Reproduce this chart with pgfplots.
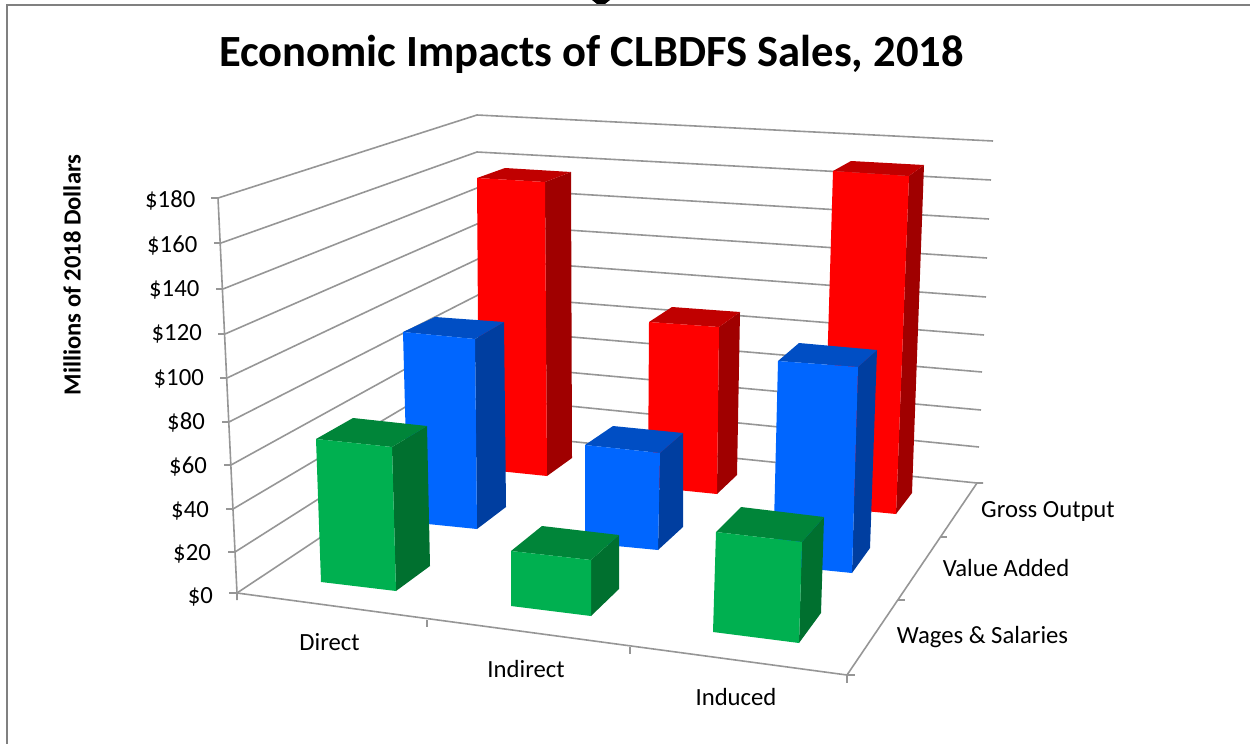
\documentclass[border=0pt]{standalone}
\usepackage{fontspec}
\setmainfont{Carlito}
\usepackage{pgfplots}
\pgfplotsset{compat=1.18}
\definecolor{redF}{RGB}{255,0,0}
\definecolor{redT}{RGB}{192,0,0}
\definecolor{redS}{RGB}{160,0,0}
\definecolor{bluF}{RGB}{0,102,255}
\definecolor{bluT}{RGB}{0,78,196}
\definecolor{bluS}{RGB}{0,62,160}
\definecolor{grnF}{RGB}{0,176,80}
\definecolor{grnT}{RGB}{0,133,57}
\definecolor{grnS}{RGB}{0,112,47}
\definecolor{gridc}{RGB}{150,150,150}
% coordinates below are picture positions (the 3D view is a projection)
\newcommand{\face}[2]{\addplot[draw=none,fill=#1] coordinates {#2} --cycle;}
\newcommand{\gline}[1]{\addplot[gridc,line width=1.6pt] coordinates {#1};}
\begin{document}
\begin{tikzpicture}
\useasboundingbox (0,0) rectangle (1250pt,744pt);
\begin{axis}[
    at={(0,0)},
    anchor=south west,
    hide axis,
    scale only axis,
    width=1250pt,
    height=744pt,
    xmin=0, xmax=1250,
    ymin=0, ymax=744,
    y dir=reverse,
]
% chart frame
\face{black}{(592,0)(610,0)(605,4)(597,4)}
\addplot[gray,line width=1.5pt] coordinates {(7,744)(7,5)(1250,5)};
% value axis
\gline{(211,198)(218,198)(237,593)(237,600)}
\gline{(229,593)(237,593)}
\gline{(214,243)(221,243)}
\gline{(216,289)(223,289)}
\gline{(218,334)(225,334)}
\gline{(220,378)(227,378)}
\gline{(222,422)(229,422)}
\gline{(224,465)(231,465)}
\gline{(226,509)(233,509)}
\gline{(228,552)(235,552)}
% side wall and back wall gridlines
\gline{(218,198)(477,115)(993,141)}
\gline{(221,243)(477,152)(991,180)}
\gline{(223,289)(477,188)(989,219)}
\gline{(225,334)(477,224)(987,258)}
\gline{(227,378)(478,259)(986,297)}
\gline{(229,422)(478,295)(984,335)}
\gline{(231,465)(478,329)(982,372)}
\gline{(233,509)(478,364)(981,410)}
\gline{(235,552)(479,397)(979,447)}
\gline{(237,593)(479,432)(977,483)(983,483)}
% floor edges and ticks
\gline{(237,593)(847,675)(977,483)}
\gline{(427,620)(427,627)}
\gline{(630,647)(630,654)}
\gline{(847,675)(847,683)}
\gline{(847,675)(855,675)}
\gline{(898,600)(905,600)}
\gline{(940,537)(947,537)}
% Gross Output
\face{redS}{(545,182)(571,172)(572,458)(547,476)}
\face{redT}{(477,178)(505,168)(571,172)(545,182)}
\face{redF}{(477,178)(545,182)(547,476)(479,469)}
\face{redS}{(719,327)(740,312)(737,475)(717,494)}
\face{redT}{(649,322)(672,307)(740,312)(719,327)}
\face{redF}{(649,322)(719,327)(717,494)(648,487)}
\face{redS}{(909,176)(924,165)(912,493)(896,514)}
\face{redT}{(833,171)(851,161)(924,165)(909,176)}
\face{redF}{(833,171)(909,176)(896,514)(823,507)}
% Value Added
\face{bluS}{(475,339)(504,322)(506,507)(477,529)}
\face{bluT}{(403,332)(435,317)(504,322)(475,339)}
\face{bluF}{(403,332)(475,339)(477,529)(408,522)}
\face{bluS}{(660,453)(683,433)(683,527)(658,550)}
\face{bluT}{(585,445)(613,426)(683,433)(660,453)}
\face{bluF}{(585,445)(660,453)(658,550)(585,543)}
\face{bluS}{(858,367)(877,350)(870,548)(852,573)}
\face{bluT}{(778,361)(799,343)(877,350)(858,367)}
\face{bluF}{(778,361)(858,367)(852,573)(773,565)}
% Wages & Salaries
\face{grnS}{(392,447)(427,426)(430,566)(396,591)}
\face{grnT}{(316,439)(353,418)(427,426)(392,447)}
\face{grnF}{(316,439)(392,447)(396,591)(321,582)}
\face{grnS}{(591,560)(619,535)(619,589)(591,616)}
\face{grnT}{(511,551)(542,526)(619,535)(591,560)}
\face{grnF}{(511,551)(591,560)(591,616)(511,606)}
\face{grnS}{(802,542)(824,517)(821,613)(799,643)}
\face{grnT}{(716,532)(741,507)(824,517)(802,542)}
\face{grnF}{(716,532)(802,542)(799,643)(713,632)}
% texts
\node[font=\fontsize{44.6}{44}\selectfont\bfseries,anchor=base,inner sep=0pt] at (591.5,66) {Economic Impacts of CLBDFS Sales, 2018};
\node[font=\fontsize{24.6}{24}\selectfont\bfseries,rotate=90] at (72,275) {Millions of 2018 Dollars};
\begin{scope}[every node/.style={font=\fontsize{24.7}{24}\selectfont,inner sep=0pt}]
\node[anchor=base east] at (195.5,207) {\$180};
\node[anchor=base east] at (197.5,252) {\$160};
\node[anchor=base east] at (199.5,296) {\$140};
\node[anchor=base east] at (202,340) {\$120};
\node[anchor=base east] at (204,385) {\$100};
\node[anchor=base east] at (205,429) {\$80};
\node[anchor=base east] at (207,473) {\$60};
\node[anchor=base east] at (209,517) {\$40};
\node[anchor=base east] at (211,560) {\$20};
\node[anchor=base east] at (213,603) {\$0};
\node[anchor=base] at (329.5,650) {Direct};
\node[anchor=base] at (526,677) {Indirect};
\node[anchor=base] at (736,705) {Induced};
\node[anchor=base] at (1048,517) {Gross Output};
\node[anchor=base] at (1006,576) {Value Added};
\node[anchor=base] at (982.5,643) {Wages \& Salaries};
\end{scope}
\end{axis}
\end{tikzpicture}
\end{document}
